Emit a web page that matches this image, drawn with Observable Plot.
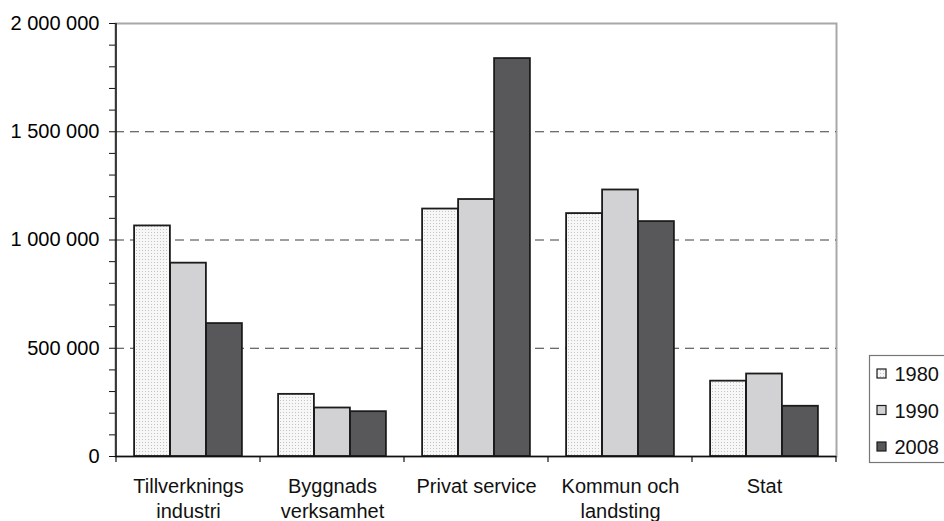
<!DOCTYPE html>
<html><head><meta charset="utf-8">
<script src="https://cdn.jsdelivr.net/npm/d3@7"></script>
<script src="https://cdn.jsdelivr.net/npm/@observablehq/plot@0.6"></script>
<style>
body{margin:0;background:#fff;}
#chart svg{display:block;font-family:"Liberation Sans",Arial,sans-serif;}
</style>
</head><body><div id="chart"></div>
<script>
// ---- data ----
const categories = ["Tillverknings industri", "Byggnads verksamhet", "Privat service", "Kommun och landsting", "Stat"];
const categoryLabels = ["Tillverknings\nindustri", "Byggnads\nverksamhet", "Privat service", "Kommun och\nlandsting", "Stat"];
const years = ["1980", "1990", "2008"];
const values1980 = [1065000, 287000, 1143000, 1122000, 348000];
const values1990 = [893000, 224000, 1187000, 1231000, 381000];
const values2008 = [614000, 207000, 1838000, 1085000, 232000];
const yTicksMajor = [0, 500000, 1000000, 1500000, 2000000];
const gridValues = [500000, 1000000, 1500000];

// ---- layout ----
const W = 944, H = 521, mL = 115, mR = 108, mT = 23, mB = 65;
const band = (W - mL - mR) / categories.length;
const barW = 36;
const outer = (band - 3 * barW) / 2;
const fills = ["url(#dots1980)", "#d2d2d4", "#58585a"];
const seriesValues = [values1980, values1990, values2008];

const fmt = d3.formatLocale({thousands: " ", grouping: [3], decimal: ","}).format(",d");
const minorTicks = d3.range(0, 2000001, 100000);

const barMarks = years.map((yr, i) => Plot.barY(
  categories.map((c, j) => ({category: c, value: seriesValues[i][j], year: yr})),
  {x: "category", y: "value", fill: fills[i], stroke: "#1c1c1c", strokeWidth: 1.8,
   insetLeft: outer + barW * i, insetRight: band - outer - barW * (i + 1)}
));

const chart = Plot.plot({
  width: W, height: H,
  marginLeft: mL, marginRight: mR, marginTop: mT, marginBottom: mB,
  style: {fontFamily: "'Liberation Sans', Arial, sans-serif", background: "#fff", color: "#000"},
  x: {type: "band", domain: categories, padding: 0, axis: null},
  y: {domain: [0, 2000000], axis: null},
  marks: [
    Plot.frame({stroke: "#a8a8a8", strokeWidth: 2}),
    Plot.ruleY(gridValues, {stroke: "#3c3c3c", strokeWidth: 1, strokeDasharray: "9,6"}),
    ...barMarks,
    Plot.ruleY([0], {stroke: "#111", strokeWidth: 1.5}),
    Plot.axisY({ticks: minorTicks, tickSize: 6, tickPadding: 10, fontSize: 20,
      tickFormat: d => yTicksMajor.includes(d) ? fmt(d) : "", label: null, stroke: "#111"}),
    Plot.text(categories, {x: d => d, y: () => 0, text: (d, i) => categoryLabels[i],
      lineAnchor: "top", dy: 19, fontSize: 20, lineHeight: 1.25, fill: "#111"})
  ]
});

document.getElementById("chart").appendChild(chart);

// ---- pattern, axis line, boundary ticks, legend ----
const svg = d3.select(chart);
const defs = svg.insert("defs", ":first-child");
const pat = defs.append("pattern").attr("id", "dots1980").attr("patternUnits", "userSpaceOnUse")
  .attr("width", 3).attr("height", 3);
pat.append("rect").attr("width", 3).attr("height", 3).attr("fill", "#f7f7f7");
pat.append("rect").attr("x", 1).attr("y", 1).attr("width", 1).attr("height", 1).attr("fill", "#c4c4c4");

const xs = chart.scale("x"), ys = chart.scale("y");
const y0 = ys.apply(0), yTop = ys.apply(2000000);
const xLeft = xs.apply(categories[0]);
svg.append("line").attr("x1", xLeft).attr("x2", xLeft).attr("y1", yTop).attr("y2", y0)
  .attr("stroke", "#111").attr("stroke-width", 1.5);
const bounds = categories.map(c => xs.apply(c)).concat([xs.apply(categories[categories.length - 1]) + xs.bandwidth]);
svg.append("g").selectAll("line").data(bounds).join("line")
  .attr("x1", d => d).attr("x2", d => d).attr("y1", y0).attr("y2", y0 + 6)
  .attr("stroke", "#111").attr("stroke-width", 1.2);

const lg = svg.append("g").attr("text-anchor", "start");
lg.append("rect").attr("x", 869.5).attr("y", 355.5).attr("width", 100).attr("height", 107)
  .attr("fill", "#fff").attr("stroke", "#777").attr("stroke-width", 1.2);
years.forEach((yr, i) => {
  const base = 381 + i * 36.5;
  lg.append("rect").attr("x", 877).attr("y", base - 12).attr("width", 9).attr("height", 9)
    .attr("fill", fills[i]).attr("stroke", "#1c1c1c").attr("stroke-width", 1.2);
  lg.append("text").attr("x", 894.5).attr("y", base).attr("font-size", 20).attr("fill", "#111")
    .attr("text-anchor", "start").text(yr);
});
</script>
</body></html>
